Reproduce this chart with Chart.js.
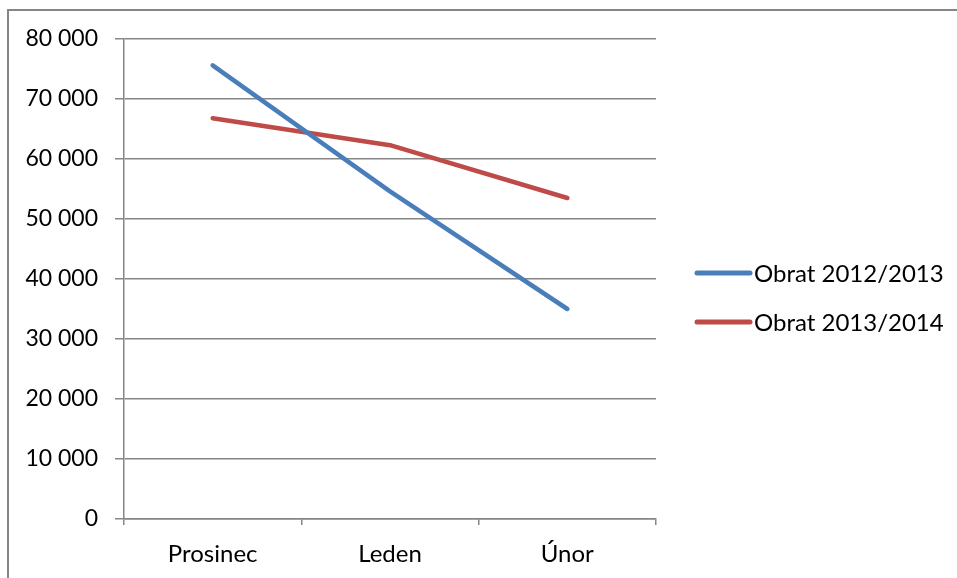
<!DOCTYPE html>
<html>
<head>
<meta charset="utf-8">
<script src="https://cdn.jsdelivr.net/npm/chart.js@4.4.1/dist/chart.umd.min.js"></script>
<style>
    html, body { margin: 0; padding: 0; background: #fff; }
    #wrap { width: 957px; height: 578px; position: relative; }
</style>
</head>
<body>
<div id="wrap"><canvas id="turnoverChart" width="957" height="578"></canvas></div>
<script>
// Data
const months = ['Prosinec', 'Leden', 'Únor'];
const turnover1213 = [75600, 54600, 35000];
const turnover1314 = [66800, 62300, 53500];
const seriesNames = ['Obrat 2012/2013', 'Obrat 2013/2014'];
const yTicks = [0, 10000, 20000, 30000, 40000, 50000, 60000, 70000, 80000];

const FONT = 'Lato, "Open Sans", sans-serif';
const GRID = '#868686';

function formatThousands(v) {
    return String(v).replace(/\B(?=(\d{3})+(?!\d))/g, ' ');
}

// Frame around the chart (only left and top edges are visible in the picture)
const framePlugin = {
    id: 'frame',
    beforeDraw(chart) {
        const ctx = chart.ctx;
        ctx.save();
        ctx.strokeStyle = GRID;
        ctx.lineWidth = 2;
        ctx.beginPath();
        ctx.moveTo(8, chart.height);
        ctx.lineTo(8, 10);
        ctx.lineTo(chart.width, 10);
        ctx.stroke();
        ctx.restore();
    }
};

// Line-style legend on the right, like the office chart
const lineLegendPlugin = {
    id: 'lineLegend',
    afterDraw(chart) {
        const ctx = chart.ctx;
        const x0 = 697, x1 = 750, top = 273, gap = 49;
        ctx.save();
        ctx.font = '24px ' + FONT;
        ctx.textBaseline = 'middle';
        ctx.textAlign = 'left';
        chart.data.datasets.forEach((ds, i) => {
            const y = top + i * gap;
            ctx.strokeStyle = ds.borderColor;
            ctx.lineWidth = 5;
            ctx.lineCap = 'round';
            ctx.beginPath();
            ctx.moveTo(x0, y);
            ctx.lineTo(x1, y);
            ctx.stroke();
            ctx.fillStyle = '#000';
            ctx.fillText(ds.label, x1 + 4, y + 1);
        });
        ctx.restore();
    }
};

new Chart(document.getElementById('turnoverChart'), {
    type: 'line',
    data: {
        labels: months,
        datasets: [{
            label: seriesNames[0],
            data: turnover1213,
            borderColor: '#4A7EBB',
            borderWidth: 4.5,
            borderCapStyle: 'round',
            borderJoinStyle: 'round',
            pointRadius: 0,
            tension: 0
        }, {
            label: seriesNames[1],
            data: turnover1314,
            borderColor: '#BE4B48',
            borderWidth: 4.5,
            borderCapStyle: 'round',
            borderJoinStyle: 'round',
            pointRadius: 0,
            tension: 0
        }]
    },
    options: {
        responsive: false,
        animation: false,
        layout: {
            padding: { left: 0, top: 39, right: 301, bottom: 0 }
        },
        plugins: {
            legend: { display: false },
            tooltip: { enabled: false }
        },
        scales: {
            x: {
                offset: true,
                afterFit: function(scale) { scale.height = 59; },
                grid: {
                    offset: true,
                    drawOnChartArea: false,
                    drawTicks: true,
                    tickLength: 6,
                    color: GRID,
                    lineWidth: 1.5
                },
                border: { color: GRID, width: 1.5 },
                ticks: {
                    color: '#000',
                    padding: 15,
                    font: { family: FONT, size: 24 }
                }
            },
            y: {
                min: yTicks[0],
                max: yTicks[yTicks.length - 1],
                afterFit: function(scale) { scale.width = 124; },
                afterBuildTicks: function(scale) {
                    scale.ticks = yTicks.map(v => ({ value: v }));
                },
                grid: {
                    color: GRID,
                    lineWidth: 1.5,
                    tickLength: 9
                },
                border: { color: GRID, width: 1.5 },
                ticks: {
                    color: '#000',
                    padding: 17,
                    font: { family: FONT, size: 23 },
                    callback: function(value) { return formatThousands(value); }
                }
            }
        }
    },
    plugins: [framePlugin, lineLegendPlugin]
});
</script>
</body>
</html>
